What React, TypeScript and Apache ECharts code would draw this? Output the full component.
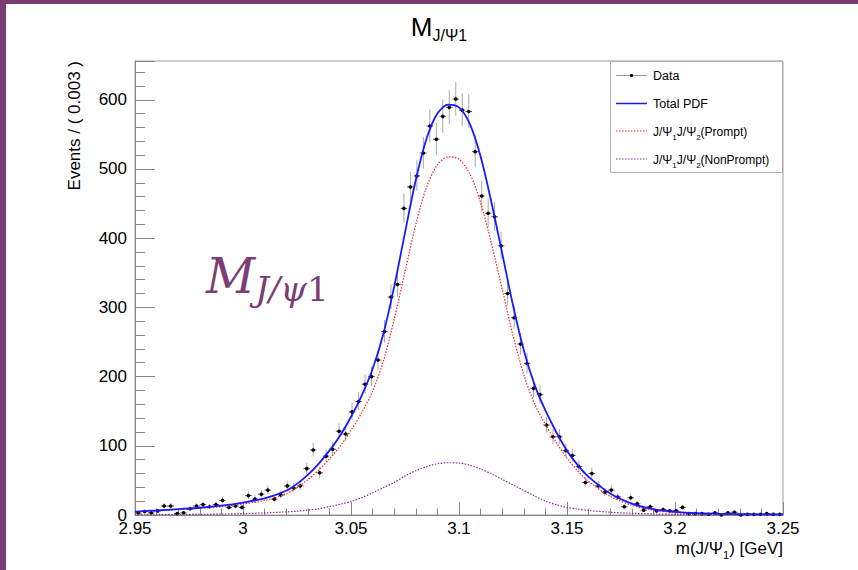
import React, { useEffect, useRef } from "react";
import * as echarts from "echarts";

// Binning of the data histogram
const BIN_LO = 2.95;
const BIN_WIDTH = 0.003;

// Events per bin (100 bins, 2.95 - 3.25 GeV)
const dataCounts = [
  3, 5, 3, 6, 13, 13, 2, 3, 9, 13,
  15, 12, 15, 21, 11, 13, 11, 28, 23, 30,
  36, 23, 29, 42, 39, 42, 67, 94, 61, 85,
  95, 121, 117, 149, 164, 189, 200, 224, 265, 315,
  333, 443, 474, 490, 523, 562, 543, 576, 589, 601,
  585, 583, 525, 461, 436, 431, 389, 320, 285, 247,
  219, 183, 174, 130, 113, 113, 93, 86, 70, 47,
  60, 42, 33, 36, 26, 12, 25, 16, 7, 12,
  6, 8, 6, 6, 11, 2, 2, 2, 1, 3,
  0, 3, 4, 0, 1, 1, 1, 2, 1, 1,
];

// Fitted curves
const curveMass = [
  2.95, 2.96, 2.97, 2.98, 2.99, 3.0, 3.01, 3.02, 3.025, 3.03,
  3.035, 3.04, 3.045, 3.05, 3.055, 3.06, 3.065, 3.07, 3.075, 3.08,
  3.085, 3.09, 3.095, 3.1, 3.105, 3.11, 3.115, 3.12, 3.125, 3.13,
  3.135, 3.14, 3.145, 3.15, 3.155, 3.16, 3.17, 3.18, 3.19, 3.2,
  3.21, 3.22, 3.23, 3.24, 3.25,
];
const totalPdf = [
  5, 6.5, 8.5, 10.5, 13.5, 18, 24, 35, 45, 58,
  74, 93, 115, 142, 173, 211, 262, 330, 408, 484,
  544, 580, 593, 589, 565, 518, 452, 378, 303, 238,
  188, 151, 120, 93, 72, 55, 31, 16.5, 8.5, 4.5,
  2.6, 1.8, 1.3, 1.0, 0.8,
];
const nonPromptPdf = [
  0.3, 0.4, 0.6, 0.9, 1.3, 2, 3, 4.5, 5.5, 7,
  9, 12, 15.5, 19.5, 25, 32, 39.5, 47, 56.5, 64,
  70, 74, 75.5, 75, 72, 66.5, 59.5, 51.5, 43.5, 35.5,
  27.5, 20, 15, 11, 8.5, 6.5, 4, 2.5, 1.5, 1,
  0.6, 0.4, 0.3, 0.2, 0.15,
];
const promptPdf = [
  4.7, 6.1, 7.9, 9.6, 12.2, 16, 21, 30.5, 39.5, 51,
  65, 81, 99.5, 122.5, 148, 179, 222.5, 283, 351.5, 420,
  474, 506, 517.5, 514, 493, 451.5, 392.5, 326.5, 259.5, 202.5,
  160.5, 131, 105, 82, 63.5, 48.5, 27, 14, 7, 3.5,
  2, 1.4, 1.0, 0.8, 0.65,
];

const xTickLabels = ["2.95", "3", "3.05", "3.1", "3.15", "3.2", "3.25"];
const yTickLabels = ["0", "100", "200", "300", "400", "500", "600"];

const PURPLE = "#7a3e75";
const FONT = "'Liberation Sans', Arial, Helvetica, sans-serif";

export default function App() {
  const ref = useRef<HTMLDivElement>(null);

  useEffect(() => {
    const chart = echarts.init(ref.current!, undefined, { renderer: "svg" });

    const errData = dataCounts.map((n, i) => {
      const s = Math.sqrt(n + 0.25);
      return [BIN_LO + BIN_WIDTH * (i + 0.5), n, n > 0 ? s - 0.5 : 0, s + 0.5];
    });

    const sub = (size: number) => ({
      fontSize: size,
      fontFamily: FONT,
      fill: "#000",
      verticalAlign: "bottom",
      lineHeight: size,
    });

    const legendY = [75.5, 103.5, 131, 159];

    const curveSeries = (name: string, values: number[], color: string, width: number, dashed: boolean, z: number) => ({
      type: "line",
      name,
      data: curveMass.map((m, i) => [m, values[i]]),
      showSymbol: false,
      smooth: 0.3,
      lineStyle: dashed ? { color, width, type: [1.5, 1.5] } : { color, width },
      z,
    });

    const option: any = {
      animation: false,
      backgroundColor: "#fff",
      textStyle: { fontFamily: FONT },
      grid: {
        left: 135,
        top: 61,
        width: 648,
        height: 454,
        show: true,
        borderColor: "#a0a0a0",
        borderWidth: 1,
        backgroundColor: "transparent",
      },
      xAxis: {
        type: "value",
        min: 2.95,
        max: 3.25,
        interval: 0.05,
        axisLine: { show: true, lineStyle: { color: "#888", width: 1 } },
        axisTick: { show: true, inside: true, length: 13, lineStyle: { color: "#888" } },
        minorTick: { show: true, splitNumber: 5, length: 6.5, lineStyle: { color: "#888" } },
        splitLine: { show: false },
        axisLabel: {
          color: "#000",
          fontSize: 17,
          fontFamily: FONT,
          margin: 5,
          formatter: (v: number) => {
            const s = String(parseFloat(v.toFixed(2)));
            return xTickLabels.includes(s) ? s : "";
          },
        },
      },
      yAxis: {
        type: "value",
        min: 0,
        max: 656,
        interval: 100,
        axisLine: { show: true, lineStyle: { color: "#888", width: 1 } },
        axisTick: { show: true, inside: true, length: 20, lineStyle: { color: "#888" } },
        minorTick: { show: true, splitNumber: 5, length: 10, lineStyle: { color: "#888" } },
        splitLine: { show: false },
        axisLabel: {
          color: "#000",
          fontSize: 17,
          fontFamily: FONT,
          margin: 8,
          formatter: (v: number) => {
            const s = String(Math.round(v));
            return yTickLabels.includes(s) && Math.abs(v - Math.round(v)) < 1e-6 ? s : "";
          },
        },
      },
      series: [
        {
          type: "custom",
          name: "Data",
          data: errData,
          encode: { x: 0, y: 1 },
          z: 2,
          renderItem: (params: any, api: any) => {
            const x = api.value(0);
            const y = api.value(1);
            const lo = api.value(2);
            const hi = api.value(3);
            const c = api.coord([x, y]);
            const t = api.coord([x, y + hi]);
            const b = api.coord([x, Math.max(0, y - lo)]);
            const l = api.coord([x - BIN_WIDTH / 2, y]);
            const r = api.coord([x + BIN_WIDTH / 2, y]);
            return {
              type: "group",
              children: [
                {
                  type: "line",
                  shape: { x1: c[0], y1: t[1], x2: c[0], y2: b[1] },
                  style: { stroke: "#a8a8a8", lineWidth: 1 },
                },
                {
                  type: "line",
                  shape: { x1: l[0], y1: c[1], x2: r[0], y2: c[1] },
                  style: { stroke: "#555", lineWidth: 1 },
                },
                {
                  type: "circle",
                  shape: { cx: c[0], cy: c[1], r: 1.8 },
                  style: { fill: "#000" },
                },
              ],
            };
          },
        },
        curveSeries("NonPrompt", nonPromptPdf, "#8e2a8e", 1.2, true, 3),
        curveSeries("Prompt", promptPdf, "#ff2020", 1.2, true, 3),
        curveSeries("Total PDF", totalPdf, "#1a1aff", 1.8, false, 4),
      ],
      graphic: [
        // purple slide frame
        { type: "rect", shape: { x: 0, y: 0, width: 6, height: 570 }, style: { fill: PURPLE }, z: 100 },
        { type: "rect", shape: { x: 0, y: 0, width: 858, height: 4 }, style: { fill: PURPLE }, z: 100 },
        // title
        {
          type: "text",
          x: 439,
          y: 9.5,
          style: {
            text: "{m|M}{s|J/Ψ1}",
            align: "center",
            verticalAlign: "top",
            rich: {
              m: { fontSize: 26, fontFamily: FONT, fill: "#000", lineHeight: 34 },
              s: sub(16),
            },
          },
        },
        // y axis title
        {
          type: "text",
          x: 74,
          y: 61,
          rotation: Math.PI / 2,
          style: {
            text: "Events / ( 0.003 )",
            fontSize: 17,
            fontFamily: FONT,
            fill: "#000",
            align: "right",
            verticalAlign: "middle",
          },
        },
        // x axis title
        {
          type: "text",
          x: 783,
          y: 537,
          style: {
            text: "{n|m(J/Ψ}{s|1}{n|) [GeV]}",
            align: "right",
            verticalAlign: "top",
            rich: {
              n: { fontSize: 17, fontFamily: FONT, fill: "#000", lineHeight: 23 },
              s: sub(11),
            },
          },
        },
        // legend box
        {
          type: "rect",
          shape: { x: 610.5, y: 61.5, width: 172, height: 111 },
          style: { fill: "#fff", stroke: "#b0b0b0", lineWidth: 1 },
          z: 50,
        },
        {
          type: "line",
          shape: { x1: 616, y1: legendY[0], x2: 647, y2: legendY[0] },
          style: { stroke: "#999", lineWidth: 1 },
          z: 51,
        },
        {
          type: "circle",
          shape: { cx: 631.5, cy: legendY[0], r: 1.6 },
          style: { fill: "#000" },
          z: 52,
        },
        {
          type: "line",
          shape: { x1: 616, y1: legendY[1], x2: 647, y2: legendY[1] },
          style: { stroke: "#1a1aff", lineWidth: 1.5 },
          z: 51,
        },
        {
          type: "line",
          shape: { x1: 616, y1: legendY[2], x2: 647, y2: legendY[2] },
          style: { stroke: "#ff2020", lineWidth: 1, lineDash: [1.5, 1.5] },
          z: 51,
        },
        {
          type: "line",
          shape: { x1: 616, y1: legendY[3], x2: 647, y2: legendY[3] },
          style: { stroke: "#8e2a8e", lineWidth: 1, lineDash: [1.5, 1.5] },
          z: 51,
        },
        {
          type: "text",
          x: 653,
          y: legendY[0],
          z: 52,
          style: { text: "Data", fontSize: 12.5, fontFamily: FONT, fill: "#000", align: "left", verticalAlign: "middle" },
        },
        {
          type: "text",
          x: 653,
          y: legendY[1],
          z: 52,
          style: { text: "Total PDF", fontSize: 12.5, fontFamily: FONT, fill: "#000", align: "left", verticalAlign: "middle" },
        },
        {
          type: "text",
          x: 653,
          y: legendY[2] + 1,
          z: 52,
          style: {
            text: "{n|J/Ψ}{s|1}{n|J/Ψ}{s|2}{n|(Prompt)}",
            align: "left",
            verticalAlign: "middle",
            rich: {
              n: { fontSize: 12, fontFamily: FONT, fill: "#000", lineHeight: 18 },
              s: sub(8),
            },
          },
        },
        {
          type: "text",
          x: 653,
          y: legendY[3] + 1,
          z: 52,
          style: {
            text: "{n|J/Ψ}{s|1}{n|J/Ψ}{s|2}{n|(NonPrompt)}",
            align: "left",
            verticalAlign: "middle",
            rich: {
              n: { fontSize: 12, fontFamily: FONT, fill: "#000", lineHeight: 18 },
              s: sub(8),
            },
          },
        },
        // purple overlay label
        {
          type: "text",
          x: 206,
          y: 246,
          z: 60,
          style: {
            text: "{m|M}{s|J/ψ}{d|1}",
            align: "left",
            verticalAlign: "top",
            rich: {
              m: { fontSize: 48, fontFamily: "'DejaVu Serif', serif", fontStyle: "italic", fill: PURPLE, lineHeight: 60 },
              s: { fontSize: 34, fontFamily: "'DejaVu Serif', serif", fontStyle: "italic", fill: PURPLE, lineHeight: 34, verticalAlign: "bottom" },
              d: { fontSize: 34, fontFamily: "'DejaVu Serif', serif", fill: PURPLE, lineHeight: 34, verticalAlign: "bottom" },
            },
          },
        },
      ],
    };

    chart.setOption(option);
    return () => chart.dispose();
  }, []);

  return (
    <div
      ref={ref}
      style={{ position: "absolute", left: 0, top: 0, width: 858, height: 570, background: "#fff" }}
    />
  );
}
